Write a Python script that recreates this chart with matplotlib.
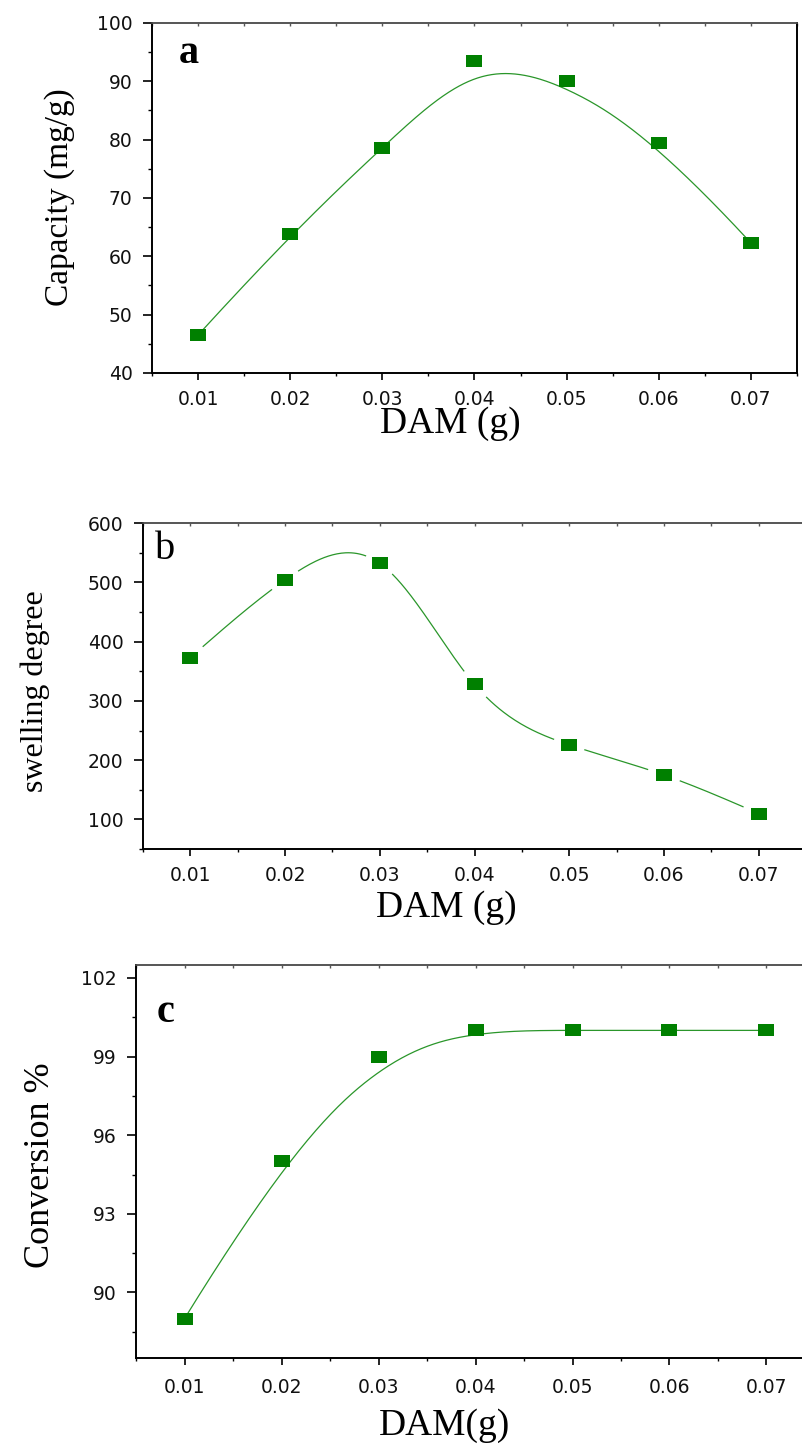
import numpy as np
import matplotlib
matplotlib.use("Agg")
import matplotlib.pyplot as plt
from matplotlib.ticker import MultipleLocator, FixedLocator, FormatStrFormatter

# values
dam = [0.01, 0.02, 0.03, 0.04, 0.05, 0.06, 0.07]
capacity = [46.5, 63.8, 78.6, 93.4, 90.1, 79.4, 62.3]
swelling = [373, 504, 532, 328, 226, 175, 110]
conversion = [89, 95, 99, 100, 100, 100, 100]

GREEN = "#008000"
LINE = "#2a962a"
SERIF = "Liberation Serif"
SANS = "DejaVu Sans"
RECT = [(-1, -0.74), (1, -0.74), (1, 0.74), (-1, 0.74), (-1, -0.74)]


def bspline(xs, ys, k=3, num=400):
    """Clamped cubic B-spline with the data points as control points (Origin's 'B-Spline')."""
    pts = np.column_stack([xs, ys]).astype(float)
    n = len(pts)
    knots = np.concatenate([np.zeros(k), np.arange(n - k + 1), np.full(k, n - k)]).astype(float)
    t = np.linspace(0, n - k, num)
    N = np.zeros((num, len(knots) - 1))
    for i in range(len(knots) - 1):
        N[:, i] = (knots[i] <= t) & (t < knots[i + 1])
    N[-1, n - 1] = 1.0
    for p in range(1, k + 1):
        M = np.zeros((num, len(knots) - 1 - p))
        for i in range(len(knots) - 1 - p):
            d1 = knots[i + p] - knots[i]
            d2 = knots[i + p + 1] - knots[i + 1]
            a = (t - knots[i]) / d1 * N[:, i] if d1 > 0 else 0
            b = (knots[i + p + 1] - t) / d2 * N[:, i + 1] if d2 > 0 else 0
            M[:, i] = a + b
        N = M
    c = N @ pts
    return c[:, 0], c[:, 1]


def natural_spline(xs, ys, num=400):
    """Interpolating natural cubic spline (Origin's 'Spline')."""
    x = np.asarray(xs, float)
    y = np.asarray(ys, float)
    n = len(x)
    h = np.diff(x)
    A = np.zeros((n, n))
    r = np.zeros(n)
    A[0, 0] = A[-1, -1] = 1
    for i in range(1, n - 1):
        A[i, i - 1] = h[i - 1]
        A[i, i] = 2 * (h[i - 1] + h[i])
        A[i, i + 1] = h[i]
        r[i] = 6 * ((y[i + 1] - y[i]) / h[i] - (y[i] - y[i - 1]) / h[i - 1])
    m = np.linalg.solve(A, r)
    xf = np.linspace(x[0], x[-1], num)
    j = np.clip(np.searchsorted(x, xf) - 1, 0, n - 2)
    dx0 = xf - x[j]
    dx1 = x[j + 1] - xf
    hj = h[j]
    yf = (m[j] * dx1 ** 3 + m[j + 1] * dx0 ** 3) / (6 * hj) \
        + (y[j] / hj - m[j] * hj / 6) * dx1 + (y[j + 1] / hj - m[j + 1] * hj / 6) * dx0
    return xf, yf


def style_axes(ax, xlabel, ylabel, letter, letter_pos, letter_weight,
               xlab_pos, ylab_pos, ypad, xpad):
    ax.set_xlim(0.005, 0.075)
    ax.xaxis.set_major_locator(FixedLocator(dam))
    ax.xaxis.set_major_formatter(FormatStrFormatter("%.2f"))
    ax.xaxis.set_minor_locator(MultipleLocator(0.005))
    for side in ["left", "bottom", "right"]:
        ax.spines[side].set_linewidth(1.4)
        ax.spines[side].set_color("black")
    ax.spines["top"].set_linewidth(1.2)
    ax.spines["top"].set_color("#555555")
    ax.tick_params(axis="both", which="major", labelsize=13.5,
                   labelfontfamily=SANS, labelcolor="#111111")
    ax.tick_params(axis="y", which="major", length=6.5, width=1.2, pad=ypad)
    ax.tick_params(axis="y", which="minor", length=3, width=1.0)
    ax.tick_params(axis="x", which="major", length=5, width=1.2, pad=xpad)
    ax.tick_params(axis="x", which="minor", length=2.5, width=1.0)

    top = ax.secondary_xaxis("top")
    top.xaxis.set_major_locator(FixedLocator(dam))
    top.xaxis.set_minor_locator(MultipleLocator(0.005))
    top.tick_params(which="both", direction="in", length=2.5, width=1.0,
                    labeltop=False, colors="#555555")
    top.spines["top"].set_color("#555555")
    top.spines["top"].set_linewidth(1.2)

    ax.set_xlabel(xlabel, fontfamily=SERIF, fontsize=27)
    ax.xaxis.label.set_va("baseline")
    ax.xaxis.set_label_coords(*xlab_pos)
    ax.set_ylabel(ylabel, fontfamily=SERIF, fontsize=ylab_pos[2])
    ax.yaxis.set_label_coords(ylab_pos[0], ylab_pos[1])
    ax.text(letter_pos[0], letter_pos[1], letter, transform=ax.transAxes,
            fontfamily=SERIF, fontsize=29, fontweight=letter_weight, va="baseline")


fig = plt.figure(figsize=(8.02, 14.44), dpi=100)

# ---- a: capacity ----
ax1 = fig.add_axes([0.1895, 0.7417, 0.8042, 0.2424])
bx, by = bspline(dam, capacity)
ax1.plot(bx, by, color=LINE, lw=0.9, zorder=2)
ax1.plot(dam, capacity, ls="none", marker=RECT, ms=12, color=GREEN, mew=0, zorder=3)
ax1.set_ylim(40, 100)
ax1.yaxis.set_major_locator(MultipleLocator(10))
ax1.yaxis.set_minor_locator(MultipleLocator(5))
style_axes(ax1, "DAM (g)", "Capacity (mg/g)", "a", (0.042, 0.886), "bold",
           (0.462, -0.171), (-0.119, 0.503, 24), 7.5, 7)

# ---- b: swelling degree ----
ax2 = fig.add_axes([0.1783, 0.4120, 0.8267, 0.2258])
ax2.set_xlim(0.005, 0.075)
ax2.set_ylim(50, 600)
sx, sy = natural_spline(dam, swelling)
# Origin leaves a gap in the line around each symbol
disp = ax2.transData.transform(np.column_stack([sx, sy]))
mdisp = ax2.transData.transform(np.column_stack([dam, swelling]))
dist = np.min(np.hypot(disp[:, None, 0] - mdisp[None, :, 0],
                       disp[:, None, 1] - mdisp[None, :, 1]), axis=1)
sy_gap = np.where(dist > 16, sy, np.nan)
ax2.plot(sx, sy_gap, color=LINE, lw=0.9, zorder=2)
ax2.plot(dam, swelling, ls="none", marker=RECT, ms=12, color=GREEN, mew=0, zorder=3)
ax2.yaxis.set_major_locator(MultipleLocator(100))
ax2.yaxis.set_minor_locator(MultipleLocator(50))
style_axes(ax2, "DAM (g)", "swelling degree", "b", (0.018, 0.89), "normal",
           (0.458, -0.209), (-0.140, 0.483, 23), 7.5, 7.5)
ax2.set_ylim(50, 600)

# ---- c: conversion ----
ax3 = fig.add_axes([0.1696, 0.0596, 0.8466, 0.2722])
cx, cy = bspline(dam, conversion)
ax3.plot(cx, cy, color=LINE, lw=0.9, zorder=2)
ax3.plot(dam, conversion, ls="none", marker=RECT, ms=12, color=GREEN, mew=0, zorder=3)
ax3.set_ylim(87.5, 102.5)
ax3.yaxis.set_major_locator(MultipleLocator(3))
ax3.yaxis.set_minor_locator(MultipleLocator(1.5))
style_axes(ax3, "DAM(g)", "Conversion %", "c", (0.031, 0.855), "bold",
           (0.455, -0.196), (-0.116, 0.491, 26), 7.5, 9.5)

fig.savefig("out.png", dpi=100)
